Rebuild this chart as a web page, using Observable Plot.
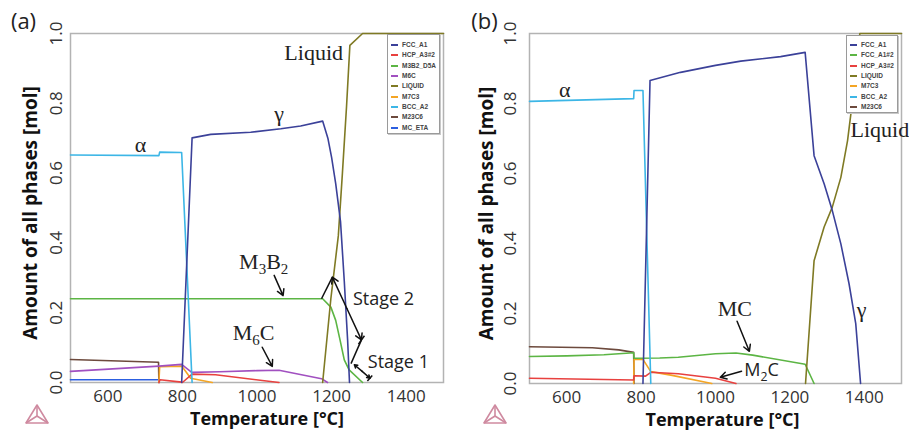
<!DOCTYPE html>
<html><head><meta charset="utf-8">
<script src="https://cdn.jsdelivr.net/npm/d3@7"></script>
<script src="https://cdn.jsdelivr.net/npm/@observablehq/plot@0.6"></script>
<style>
html,body{margin:0;padding:0;background:#fff;width:909px;height:431px;overflow:hidden;}
#wrap{position:relative;width:909px;height:431px;font-family:"Open Sans",sans-serif;}
.panel{position:absolute;top:0;}
.legend{position:absolute;background:#fff;border:1px solid #9a9a9a;box-shadow:1px 1px 0 #c8c8c8;box-sizing:border-box;}
.legend .row{position:absolute;left:0;height:10px;line-height:10px;font-family:"Liberation Sans",Arial,sans-serif;font-size:6.5px;font-weight:bold;color:#444;white-space:nowrap;}
.legend .sw{position:absolute;top:4px;width:7px;height:2px;}
.logo{position:absolute;}
</style></head><body><div id="wrap"></div>
<script>
// ---------- data ----------
const xTicks = [600, 800, 1000, 1200, 1400];
const yTicks = [0.0, 0.2, 0.4, 0.6, 0.8, 1.0];
const phasesA = ["FCC_A1","HCP_A3#2","M3B2_D5A","M6C","LIQUID","M7C3","BCC_A2","M23C6","MC_ETA"];
const phasesB = ["FCC_A1","FCC_A1#2","HCP_A3#2","LIQUID","M7C3","BCC_A2","M23C6"];
const phaseColors = {"FCC_A1":"#3b4199","HCP_A3#2":"#e8413f","M3B2_D5A":"#5cb544","FCC_A1#2":"#5cb544","M6C":"#a150c0","LIQUID":"#7f7a24","M7C3":"#f4a524","BCC_A2":"#3cb6e6","M23C6":"#6d4a3d","MC_ETA":"#2c5fe0"};

// panel (a): [temperature, amount]
const a_FCC_A1 = [[798,0],[826,0.701],[876,0.711],[983,0.717],[1064,0.727],[1117,0.735],[1176,0.749],[1190,0.70],[1200,0.645],[1211,0.57],[1224,0.46],[1234,0.29],[1243,0.12],[1248,0]];
const a_HCP_A3_2 = [[737,0],[740,0.008],[798,0.001],[800,0],[826,0.024],[889,0.022],[1059,0]];
const a_M3B2_D5A = [[500,0.240],[1176,0.240],[1198,0.216],[1211,0.178],[1223,0.12],[1234,0.065],[1247,0.036],[1283,0]];
const a_M6C = [[500,0.032],[737,0.047],[798,0.052],[825,0.029],[900,0.031],[1000,0.034],[1059,0.035],[1173,0.011],[1189,0]];
const a_LIQUID = [[1176,0],[1198,0.24],[1218,0.42],[1229,0.6],[1240,0.79],[1249,0.966],[1283,1.0],[1500,1.0]];
const a_M7C3 = [[737,0],[739,0.045],[798,0.047],[810,0.03],[822,0.012],[880,0]];
const a_BCC_A2 = [[500,0.652],[737,0.650],[739,0.660],[798,0.659],[826,0]];
const a_M23C6 = [[500,0.066],[736,0.058],[737,0]];
const a_MC_ETA = [[500,0.008],[737,0.008],[738,0]];

// panel (b)
const b_FCC_A1 = [[805,0],[824,0.866],[906,0.889],[1000,0.909],[1068,0.921],[1175,0.934],[1241,0.946],[1265,0.651],[1292,0.571],[1314,0.494],[1337,0.399],[1359,0.285],[1377,0.171],[1390,0]];
const b_FCC_A1_2 = [[500,0.077],[600,0.079],[700,0.082],[780,0.088],[781,0.072],[850,0.073],[900,0.075],[1000,0.085],[1055,0.087],[1100,0.081],[1241,0.055],[1265,0]];
const b_HCP_A3_2 = [[500,0.015],[780,0.010],[781,0.022],[812,0.021],[826,0.032],[900,0.028],[1000,0.015],[1055,0]];
const b_LIQUID = [[1242,0],[1265,0.351],[1292,0.447],[1314,0.504],[1337,0.589],[1355,0.694],[1364,0.771],[1376,0.88],[1388,1.0],[1500,1.0]];
const b_M7C3 = [[780,0],[781,0.069],[805,0.069],[826,0.034],[880,0.024],[990,0]];
const b_BCC_A2 = [[500,0.806],[780,0.814],[781,0.837],[805,0.837],[826,0]];
const b_M23C6 = [[500,0.105],[669,0.102],[740,0.096],[780,0.089],[781,0]];

// annotations (data units)
const a_serifLabels = [{x:1152,y:0.945,text:"Liquid"},{x:1059,y:0.77,text:"γ"},{x:688,y:0.682,text:"α"},{x:1018,y:0.344,text:"M3B2"},{x:991,y:0.143,text:"M6C"}];
const a_sansLabels = [{x:1339,y:0.238,text:"Stage 2"},{x:1379,y:0.058,text:"Stage 1"}];
const a_arrows = [
  {x1:1046,y1:0.307,x2:1070,y2:0.249},
  {x1:1014,y1:0.101,x2:1041,y2:0.046},
  {x1:1241,y1:0.212,x2:1202,y2:0.302},
  {x1:1241,y1:0.212,x2:1280,y2:0.122},
  {x1:1282,y1:0.032,x2:1261,y2:0.051},
  {x1:1282,y1:0.032,x2:1303,y2:0.012}
];
const a_links = [
  {x1:1173,y1:0.240,x2:1202,y2:0.302},
  {x1:1280,y1:0.122,x2:1252,y2:0.054},
  {x1:1272,y1:0.110,x2:1288,y2:0.134},
  {x1:1296,y1:0.004,x2:1309,y2:0.020}
];
const b_serifLabels = [{x:595,y:0.839,text:"α"},{x:1393,y:0.209,text:"γ"},{x:1052,y:0.214,text:"MC"}];
const b_liquidLabel = [{x:1363,y:0.723,text:"Liquid"}];
const b_sansLabels = [{x:1124,y:0.037,text:"M2C"}];
const b_arrows = [{x1:1058,y1:0.178,x2:1091,y2:0.092},{x1:1070,y1:0.035,x2:1013,y2:0.018}];

// ---------- helpers ----------
function tidy(obj){const out=[];for(const [name,pts] of Object.entries(obj)){for(const [T,v] of pts)out.push({T,v,phase:name});}return out;}
const serif = "'Liberation Serif','DejaVu Serif',serif";
const sans = "'Open Sans','Liberation Sans',sans-serif";

function subscriptify(svg){
  svg.querySelectorAll("text").forEach(t=>{
    const s=t.textContent;
    if(!/^M\d/.test(s)) return;
    const parts=s.match(/\d+|\D+/g);
    t.textContent="";
    let shifted=false;
    parts.forEach(p=>{
      const ts=document.createElementNS("http://www.w3.org/2000/svg","tspan");
      ts.textContent=p;
      if(/\d/.test(p)){ts.setAttribute("font-size","68%");ts.setAttribute("dy","5");shifted=true;}
      else if(shifted){ts.setAttribute("dy","-5");shifted=false;}
      t.appendChild(ts);
    });
  });
}

function panel(cfg){
  const data = tidy(cfg.series);
  const marks = [
    Plot.frame({stroke:"#b3b3b3",strokeWidth:1.5}),
    Plot.line(data,{x:"T",y:"v",z:"phase",stroke:d=>phaseColors[d.phase],strokeWidth:1.6,curve:"linear"}),
    Plot.text(yTicks,{y:d=>d,text:d=>d.toFixed(1),frameAnchor:"left",dx:-cfg.yTickOff,rotate:-90,textAnchor:"middle",lineAnchor:"middle",fontSize:17,fill:"#333",fontFamily:sans}),
    Plot.text(xTicks,{x:d=>d,text:d=>String(d),frameAnchor:"bottom",dy:14,lineAnchor:"middle",fontSize:17,fill:"#333",fontFamily:sans}),
    Plot.text(["Temperature [°C]"],{text:d=>d,frameAnchor:"bottom",dx:cfg.xLabDx,dy:37,lineAnchor:"middle",fontSize:18,fontWeight:"bold",fill:"#111",fontFamily:sans}),
    Plot.text(["Amount of all phases [mol]"],{text:d=>d,frameAnchor:"left",dx:cfg.yLabDx,dy:5,rotate:-90,textAnchor:"middle",lineAnchor:"middle",fontSize:19,fontWeight:"bold",fill:"#111",fontFamily:sans}),
    Plot.text([cfg.tag],{text:d=>d,frameAnchor:"top-left",dx:cfg.tagDx,dy:-12,textAnchor:"middle",lineAnchor:"middle",fontSize:22,fill:"#222",fontFamily:sans}),
    Plot.text(cfg.serifLabels,{x:"x",y:"y",text:"text",fontSize:22,fill:"#222",fontFamily:serif,lineAnchor:"middle"}),
    Plot.text(cfg.sansLabels,{x:"x",y:"y",text:"text",fontSize:18,fill:"#222",fontFamily:sans,lineAnchor:"middle"}),
    Plot.arrow(cfg.arrows,{x1:"x1",y1:"y1",x2:"x2",y2:"y2",stroke:"#111",strokeWidth:1.5,headLength:7,bend:0}),
  ];
  if(cfg.links) marks.push(Plot.link(cfg.links,{x1:"x1",y1:"y1",x2:"x2",y2:"y2",stroke:"#111",strokeWidth:1.5}));
  if(cfg.extra) marks.push(...cfg.extra);
  const svg = Plot.plot({
    width:cfg.width,height:431,
    marginLeft:cfg.ml,marginRight:cfg.mr,marginTop:33,marginBottom:cfg.mb,
    x:{domain:[500,1500],axis:null},
    y:{domain:[0,1],axis:null},
    style:{background:"transparent",overflow:"visible"},
    marks
  });
  subscriptify(svg);
  return svg;
}

function legend(names,left,top,w,h,first){
  const d=document.createElement("div");
  d.className="legend";
  d.style.left=left+"px";d.style.top=top+"px";d.style.width=w+"px";d.style.height=h+"px";
  names.forEach((n,i)=>{
    const r=document.createElement("div");r.className="row";
    r.style.top=(first+i*10.35-5)+"px";
    const sw=document.createElement("div");sw.className="sw";sw.style.left="3px";sw.style.background=phaseColors[n];
    const tx=document.createElement("span");tx.textContent=n;tx.style.position="absolute";tx.style.left="14px";
    r.appendChild(sw);r.appendChild(tx);d.appendChild(r);
  });
  return d;
}

function logo(left){
  const ns="http://www.w3.org/2000/svg";
  const s=document.createElementNS(ns,"svg");
  s.setAttribute("class","logo");s.setAttribute("width","26");s.setAttribute("height","22");
  s.style.left=left+"px";s.style.top="403px";
  s.innerHTML='<g fill="none" stroke="#cf8aa0" stroke-width="1.6" stroke-linejoin="round"><path d="M13 2 L24 20 L2 20 Z"/><path d="M13 2 L13 13 M2 20 L13 13 M24 20 L13 13"/></g>';
  return s;
}

// ---------- build ----------
const wrap=document.getElementById("wrap");
const svgA = panel({
  width:455, ml:70, mr:12, mb:49, yTickOff:14, xLabDx:10, yLabDx:-40, tag:"(a)", tagDx:-47,
  series:{"M23C6":a_M23C6,"MC_ETA":a_MC_ETA,"M7C3":a_M7C3,"HCP_A3#2":a_HCP_A3_2,"M6C":a_M6C,"M3B2_D5A":a_M3B2_D5A,"BCC_A2":a_BCC_A2,"LIQUID":a_LIQUID,"FCC_A1":a_FCC_A1},
  serifLabels:a_serifLabels, sansLabels:a_sansLabels, arrows:a_arrows, links:a_links
});
svgA.classList.add("panel");svgA.style.left="0px";
wrap.appendChild(svgA);
const svgB = panel({
  width:454, ml:74, mr:8, mb:48, yTickOff:19, xLabDx:7, yLabDx:-43, tag:"(b)", tagDx:-45,
  series:{"M23C6":b_M23C6,"M7C3":b_M7C3,"HCP_A3#2":b_HCP_A3_2,"FCC_A1#2":b_FCC_A1_2,"BCC_A2":b_BCC_A2,"LIQUID":b_LIQUID,"FCC_A1":b_FCC_A1},
  serifLabels:b_serifLabels, sansLabels:b_sansLabels, arrows:b_arrows,
  extra:[Plot.text(b_liquidLabel,{x:"x",y:"y",text:"text",fontSize:22,fill:"#222",fontFamily:serif,textAnchor:"start",lineAnchor:"middle"})]
});
svgB.classList.add("panel");svgB.style.left="455px";
wrap.appendChild(svgB);
wrap.appendChild(legend(phasesA,387,34,53,100,10));
wrap.appendChild(legend(phasesB,846,35,52,78,9));
wrap.appendChild(logo(24));
wrap.appendChild(logo(482));
</script></body></html>
